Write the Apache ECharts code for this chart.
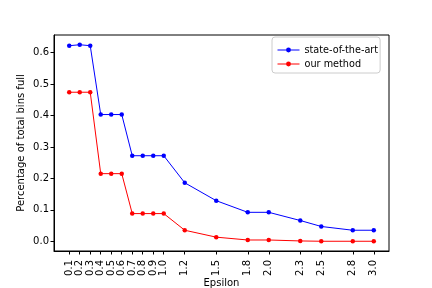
<!DOCTYPE html>
<html><head><meta charset="utf-8">
<script src="https://cdn.jsdelivr.net/npm/echarts@6/dist/echarts.min.js"></script>
<style>html,body{margin:0;padding:0;background:#fff}#c{width:432px;height:288px}</style>
</head><body><div id="c"></div>
<script>
const epsilon = [0.1,0.2,0.3,0.4,0.5,0.6,0.7,0.8,0.9,1.0,1.2,1.5,1.8,2.0,2.3,2.5,2.8,3.0];
const stateOfTheArt = [0.622,0.625,0.622,0.403,0.403,0.403,0.272,0.272,0.272,0.272,0.186,0.129,0.092,0.092,0.066,0.047,0.035,0.035];
const ourMethod = [0.474,0.474,0.474,0.215,0.215,0.215,0.088,0.088,0.088,0.088,0.035,0.013,0.004,0.004,0.001,0.0,0.0,0.0];
const yTicks = [0.0,0.1,0.2,0.3,0.4,0.5,0.6];
const seriesNames = ['state-of-the-art','our method'];

const font = 'DejaVu Sans';
const chart = echarts.init(document.getElementById('c'), null, {renderer:'canvas'});
const pair = arr => epsilon.map((x,i)=>[x,arr[i]]);
chart.setOption({
  animation:false,
  backgroundColor:'#fff',
  textStyle:{fontFamily:font},
  grid:{left:54,right:43,top:35,bottom:37,outerBoundsMode:'none',containLabel:false,show:true,borderColor:'#000',borderWidth:1,backgroundColor:'transparent'},
  legend:{
    data:seriesNames, orient:'vertical', left:272, top:37,
    itemWidth:22, itemHeight:6, itemGap:2,
    lineStyle:{width:1},
    borderColor:'#ccc', borderWidth:1, borderRadius:3, padding:[7,2,3,5],
    backgroundColor:'rgba(255,255,255,0.8)',
    textStyle:{fontFamily:font,fontSize:9.7,color:'#000',lineHeight:12}
  },
  xAxis:{
    type:'value', min:-0.045, max:3.145,
    name:'Epsilon', nameLocation:'middle', nameGap:27, nameMoveOverlap:false,
    nameTextStyle:{fontFamily:font,fontSize:10,color:'#000'},
    splitLine:{show:false},
    axisLine:{show:true,onZero:false,lineStyle:{color:'#000',width:1}},
    axisTick:{show:true,length:3.5,lineStyle:{color:'#000'},customValues:epsilon},
    axisLabel:{rotate:90,fontFamily:font,fontSize:10,color:'#000',margin:9,customValues:epsilon,formatter:v=>v.toFixed(1)}
  },
  yAxis:{
    type:'value', min:-0.031, max:0.656,
    name:'Percentage of total bins full', nameLocation:'middle', nameGap:28, nameMoveOverlap:false,
    nameTextStyle:{fontFamily:font,fontSize:10,color:'#000'},
    splitLine:{show:false},
    axisLine:{show:true,onZero:false,lineStyle:{color:'#000',width:1}},
    axisTick:{show:true,length:3.5,lineStyle:{color:'#000'},customValues:yTicks},
    axisLabel:{fontFamily:font,fontSize:10,color:'#000',margin:5,customValues:yTicks,formatter:v=>v.toFixed(1)}
  },
  series:[
    {name:seriesNames[0],type:'line',data:pair(stateOfTheArt),color:'#0000ff',
     symbol:'circle',symbolSize:4.5,lineStyle:{width:1,color:'#0000ff'},itemStyle:{color:'#0000ff'}},
    {name:seriesNames[1],type:'line',data:pair(ourMethod),color:'#ff0000',
     symbol:'circle',symbolSize:4.5,lineStyle:{width:1,color:'#ff0000'},itemStyle:{color:'#ff0000'}}
  ]
});
</script></body></html>
